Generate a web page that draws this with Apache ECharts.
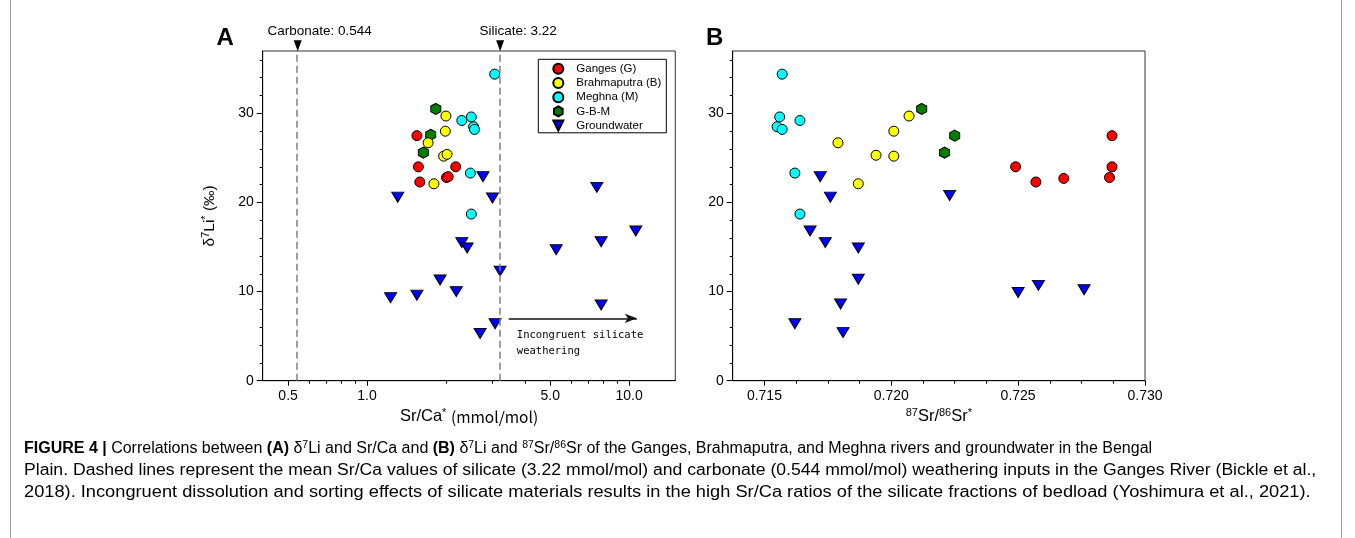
<!DOCTYPE html>
<html><head><meta charset="utf-8">
<script src="https://cdn.jsdelivr.net/npm/echarts@6/dist/echarts.min.js"></script>
<style>html,body{margin:0;padding:0;background:#fff}#c{width:1355px;height:538px}</style>
</head><body><div id="c"></div><script>
// ---------- DATA ----------
// Panel A: Sr/Ca* (mmol/mol) vs d7Li* (permil)
const gangesA_x = [1.55, 1.57, 1.59, 2.01, 2.04, 2.18];
const gangesA_y = [27.5, 24.0, 22.3, 22.8, 22.9, 24.0];
const brahmaA_x = [2.00, 1.99, 1.96, 2.02, 1.71, 1.80];
const brahmaA_y = [29.7, 28.0, 25.2, 25.4, 26.7, 22.1];
const meghnaA_x = [3.07, 2.30, 2.50, 2.55, 2.57, 2.48, 2.50];
const meghnaA_y = [34.4, 29.2, 29.6, 28.5, 28.2, 23.3, 18.7];
const gbmA_x = [1.83, 1.75, 1.64];
const gbmA_y = [30.5, 27.6, 25.6];
const gwA_x = [1.31, 1.23, 1.55, 1.90, 2.19, 2.30, 2.41, 3.01, 2.77, 7.53, 10.6, 7.82, 5.27, 3.22, 7.82, 3.08, 2.70];
const gwA_y = [20.6, 9.3, 9.6, 11.3, 10.0, 15.5, 14.9, 20.5, 22.9, 21.7, 16.8, 15.6, 14.7, 12.3, 8.5, 6.4, 5.3];
// Panel B: 87Sr/86Sr* vs d7Li*
const gangesB_x = [0.7249, 0.7257, 0.7268, 0.7287, 0.7287, 0.7286];
const gangesB_y = [24.0, 22.3, 22.7, 27.5, 24.0, 22.8];
const brahmaB_x = [0.7179, 0.7187, 0.7194, 0.7201, 0.7201, 0.7207];
const brahmaB_y = [26.7, 22.1, 25.3, 28.0, 25.2, 29.7];
const meghnaB_x = [0.7157, 0.7156, 0.7155, 0.7157, 0.7164, 0.7162, 0.7164];
const meghnaB_y = [34.4, 29.6, 28.5, 28.2, 29.2, 23.3, 18.7];
const gbmB_x = [0.7212, 0.7225, 0.7221];
const gbmB_y = [30.5, 27.5, 25.6];
const gwB_x = [0.7172, 0.7176, 0.7168, 0.7174, 0.7187, 0.7187, 0.7180, 0.7162, 0.7181, 0.7223, 0.7250, 0.7258, 0.7276];
const gwB_y = [22.9, 20.6, 16.8, 15.5, 14.9, 11.4, 8.6, 6.4, 5.4, 20.8, 9.9, 10.7, 10.2];

// reference values and annotation positions
const CARBONATE = 0.544;
const SILICATE = 3.22;
const arrowFrom = [3.47, 7.0];
const arrowTo = [10.7, 7.0];
const annoPos = [3.73, 4.2];

// ticks
const xTicksA = [0.5, 1, 5, 10];
const xMinorA = [0.6, 0.7, 0.8, 0.9, 2, 3, 4, 6, 7, 8, 9];
const xTicksB = [0.715, 0.720, 0.725, 0.730];
const xMinorB = [0.71625, 0.7175, 0.71875, 0.72125, 0.7225, 0.72375, 0.72625, 0.7275, 0.72875];
const yTicks = [0, 10, 20, 30];
const yMinor = [2, 4, 6, 8, 12, 14, 16, 18, 22, 24, 26, 28, 32, 34, 36];

const names = ['Ganges (G)', 'Brahmaputra (B)', 'Meghna (M)', 'G-B-M', 'Groundwater'];
const colors = ['#ff0000', '#ffff00', '#00ffff', '#008000', '#0000ff'];

// ---------- helpers ----------
const zip = (xs, ys) => xs.map((x, i) => [x, ys[i]]);
const FONT = 'Liberation Sans';
const HEX = 'path://M0,-1 L0.866,-0.5 L0.866,0.5 L0,1 L-0.866,0.5 L-0.866,-0.5 Z';
const TRI = 'path://M-1,-1 L1,-1 L0,1 Z';
const symbols = ['circle', 'circle', 'circle', HEX, TRI];
const sizes = [10, 10, 10, [10, 11], [12, 10]];
const supStyle = { fontSize: 11, fontFamily: FONT, verticalAlign: 'bottom', padding: [0, 0, 7, 0], color: '#000' };

function sc(name, idx, data, gi) {
  return {
    type: 'scatter', name: name, xAxisIndex: gi * 2, yAxisIndex: gi * 2,
    data: data, symbol: symbols[idx], symbolSize: sizes[idx],
    itemStyle: { color: colors[idx], borderColor: '#000', borderWidth: 1, opacity: 1 },
    emphasis: { disabled: true }, z: 3
  };
}

function mainX(gi, type, min, max, ticks, fmt, nameText) {
  return {
    type: type, gridIndex: gi, min: min, max: max, position: 'bottom',
    axisLine: { show: true, onZero: false, lineStyle: { color: '#000', width: 1 } },
    axisTick: { show: true, customValues: ticks, length: 5, lineStyle: { color: '#000' } },
    axisLabel: { show: true, customValues: ticks, formatter: fmt, margin: 8, fontSize: 14, fontFamily: FONT, color: '#000', hideOverlap: false },
    splitLine: { show: false },
    name: nameText, nameLocation: 'middle', nameGap: 27,
    nameTextStyle: { fontSize: 16.5, fontFamily: FONT, color: '#000', rich: { sup: supStyle, jp: { fontSize: 15.5, fontFamily: 'Noto Sans CJK JP', color: '#000' } } }
  };
}
function minorX(gi, type, min, max, ticks) {
  return {
    type: type, gridIndex: gi, min: min, max: max, position: 'bottom',
    axisLine: { show: false }, axisLabel: { show: false }, splitLine: { show: false },
    axisTick: { show: true, customValues: ticks, length: 3, lineStyle: { color: '#000' } }
  };
}
function mainY(gi, nameText) {
  return {
    type: 'value', gridIndex: gi, min: 0, max: 37, position: 'left',
    axisLine: { show: true, onZero: false, lineStyle: { color: '#000' } },
    axisTick: { show: true, customValues: yTicks, length: 6, lineStyle: { color: '#000' } },
    axisLabel: { show: true, customValues: yTicks, margin: 9, fontSize: 14, fontFamily: FONT, color: '#000' },
    splitLine: { show: false },
    name: nameText, nameLocation: 'middle', nameGap: 44, nameRotate: 90,
    nameTextStyle: { fontSize: 15.5, fontFamily: FONT, color: '#000', rich: { sup: supStyle } }
  };
}
function minorY(gi) {
  return {
    type: 'value', gridIndex: gi, min: 0, max: 37, position: 'left',
    axisLine: { show: false }, axisLabel: { show: false }, splitLine: { show: false },
    axisTick: { show: true, customValues: yMinor, length: 3, lineStyle: { color: '#000' } }
  };
}

const series = [];
const dataA = [zip(gangesA_x, gangesA_y), zip(brahmaA_x, brahmaA_y), zip(meghnaA_x, meghnaA_y), zip(gbmA_x, gbmA_y), zip(gwA_x, gwA_y)];
const dataB = [zip(gangesB_x, gangesB_y), zip(brahmaB_x, brahmaB_y), zip(meghnaB_x, meghnaB_y), zip(gbmB_x, gbmB_y), zip(gwB_x, gwB_y)];
[4, 3, 0, 1, 2].forEach(i => series.push(sc(names[i], i, dataA[i], 0)));
[4, 3, 0, 1, 2].forEach(i => series.push(sc(names[i], i, dataB[i], 1)));

// reference lines + top markers with labels
series.push({
  type: 'scatter', name: 'refs', xAxisIndex: 0, yAxisIndex: 0, clip: false, silent: true,
  symbol: 'path://M-1,-1 L1,-1 L0,1 Z', symbolSize: [8, 11],
  itemStyle: { color: '#000', opacity: 1 },
  data: [
    { value: [CARBONATE, 37.6], label: { formatter: 'Carbonate: 0.544', offset: [22, 0] } },
    { value: [SILICATE, 37.6], label: { formatter: 'Silicate: 3.22', offset: [18, 0] } }
  ],
  label: { show: true, position: 'top', distance: 2, fontSize: 13.5, fontFamily: FONT, color: '#000', opacity: 1 },
  markLine: {
    silent: true, symbol: 'none', animation: false,
    label: { show: false },
    lineStyle: { type: [7, 4], color: '#808080', width: 1.5, opacity: 1 },
    data: [{ xAxis: CARBONATE }, { xAxis: SILICATE }]
  }
});
// incongruent weathering arrow + text
series.push({
  type: 'scatter', name: 'anno', xAxisIndex: 0, yAxisIndex: 0, silent: true,
  symbolSize: 0, data: [annoPos], itemStyle: { opacity: 1 },
  label: { show: true, position: 'right', distance: 0, formatter: 'Incongruent silicate\nweathering',
    fontSize: 10.5, lineHeight: 16.7, fontFamily: 'DejaVu Sans Mono', color: '#000', align: 'left', opacity: 1 },
  markLine: {
    silent: true, animation: false, symbol: ['none', 'arrow'], symbolSize: [7, 12],
    label: { show: false },
    lineStyle: { type: 'solid', color: '#111', width: 1.5, opacity: 1 },
    itemStyle: { color: '#111', opacity: 1 },
    data: [[{ coord: arrowFrom }, { coord: arrowTo }]]
  }
});

const CAP = 16;
const capRich = {
  b: { fontWeight: 'bold', fontSize: CAP, fontFamily: FONT, color: '#000' },
  sup: { fontSize: 10.5, fontFamily: FONT, verticalAlign: 'bottom', padding: [0, 0, 7, 0], color: '#000' },
  g: { fontSize: CAP, fontFamily: FONT, color: '#8c8c8c' }
};
function capLine(text, y, sx) {
  return { type: 'text', x: 24, y: y, scaleX: sx, silent: true,
    style: { text: text, rich: capRich, fontSize: CAP, fontFamily: FONT, fill: '#000', align: 'left', verticalAlign: 'middle' } };
}

const option = {
  animation: false,
  backgroundColor: '#fff',
  grid: [
    { left: 262.7, top: 51, width: 412.6, height: 329.7, show: true, borderColor: '#333', borderWidth: 1, backgroundColor: 'transparent' },
    { left: 732.7, top: 51, width: 412.3, height: 329.7, show: true, borderColor: '#333', borderWidth: 1, backgroundColor: 'transparent' }
  ],
  xAxis: [
    mainX(0, 'log', 0.4, 15, xTicksA, v => Number(v).toFixed(1), 'Sr/Ca{sup|*} {jp|(mmol/mol)}'),
    minorX(0, 'log', 0.4, 15, xMinorA),
    mainX(1, 'value', 0.71375, 0.730, xTicksB, v => Number(v).toFixed(3), '{sup|87}Sr/{sup|86}Sr{sup|*}'),
    minorX(1, 'value', 0.71375, 0.730, xMinorB)
  ],
  yAxis: [
    mainY(0, 'δ{sup|7}Li{sup|*} (‰)'),
    minorY(0),
    mainY(1, ''),
    minorY(1)
  ],
  legend: {
    data: names, orient: 'vertical', left: 538.3, top: 59.3,
    padding: [3.5, 5, 1.2, 14], itemWidth: 10, itemHeight: 10, itemGap: 2.2,
    borderColor: '#000', borderWidth: 1, backgroundColor: '#fff',
    textStyle: { fontSize: 11.5, fontFamily: FONT, color: '#000', padding: [0, 0, 0, 8] },
    selectedMode: false
  },
  series: series,
  graphic: [
    { type: 'line', silent: true, shape: { x1: 10.5, y1: 0, x2: 10.5, y2: 538 }, style: { stroke: '#a0a0a0', lineWidth: 1 } },
    { type: 'line', silent: true, shape: { x1: 1341.5, y1: 0, x2: 1341.5, y2: 538 }, style: { stroke: '#a0a0a0', lineWidth: 1 } },
    { type: 'text', x: 216.5, y: 38.3, silent: true, style: { text: 'A', fontSize: 24, fontWeight: 'bold', fontFamily: FONT, fill: '#000', verticalAlign: 'middle' } },
    { type: 'text', x: 706, y: 38.3, silent: true, style: { text: 'B', fontSize: 24, fontWeight: 'bold', fontFamily: FONT, fill: '#000', verticalAlign: 'middle' } },
    capLine('{b|FIGURE 4 |} Correlations between {b|(A)} δ{sup|7}Li and Sr/Ca and {b|(B)} δ{sup|7}Li and {sup|87}Sr/{sup|86}Sr of the Ganges, Brahmaputra, and Meghna rivers and groundwater in the Bengal', 449, 1.0),
    capLine('Plain. Dashed lines represent the mean Sr/Ca values of silicate (3.22 mmol/mol) and carbonate (0.544 mmol/mol) weathering inputs in the Ganges River ({g|Bickle et al.,}', 471, 1.10),
    capLine('{g|2018}). Incongruent dissolution and sorting effects of silicate materials results in the high Sr/Ca ratios of the silicate fractions of bedload ({g|Yoshimura et al., 2021}).', 493, 1.14)
  ]
};
const chart = echarts.init(document.getElementById('c'), null, { renderer: 'canvas' });
chart.setOption(option);
</script></body></html>
